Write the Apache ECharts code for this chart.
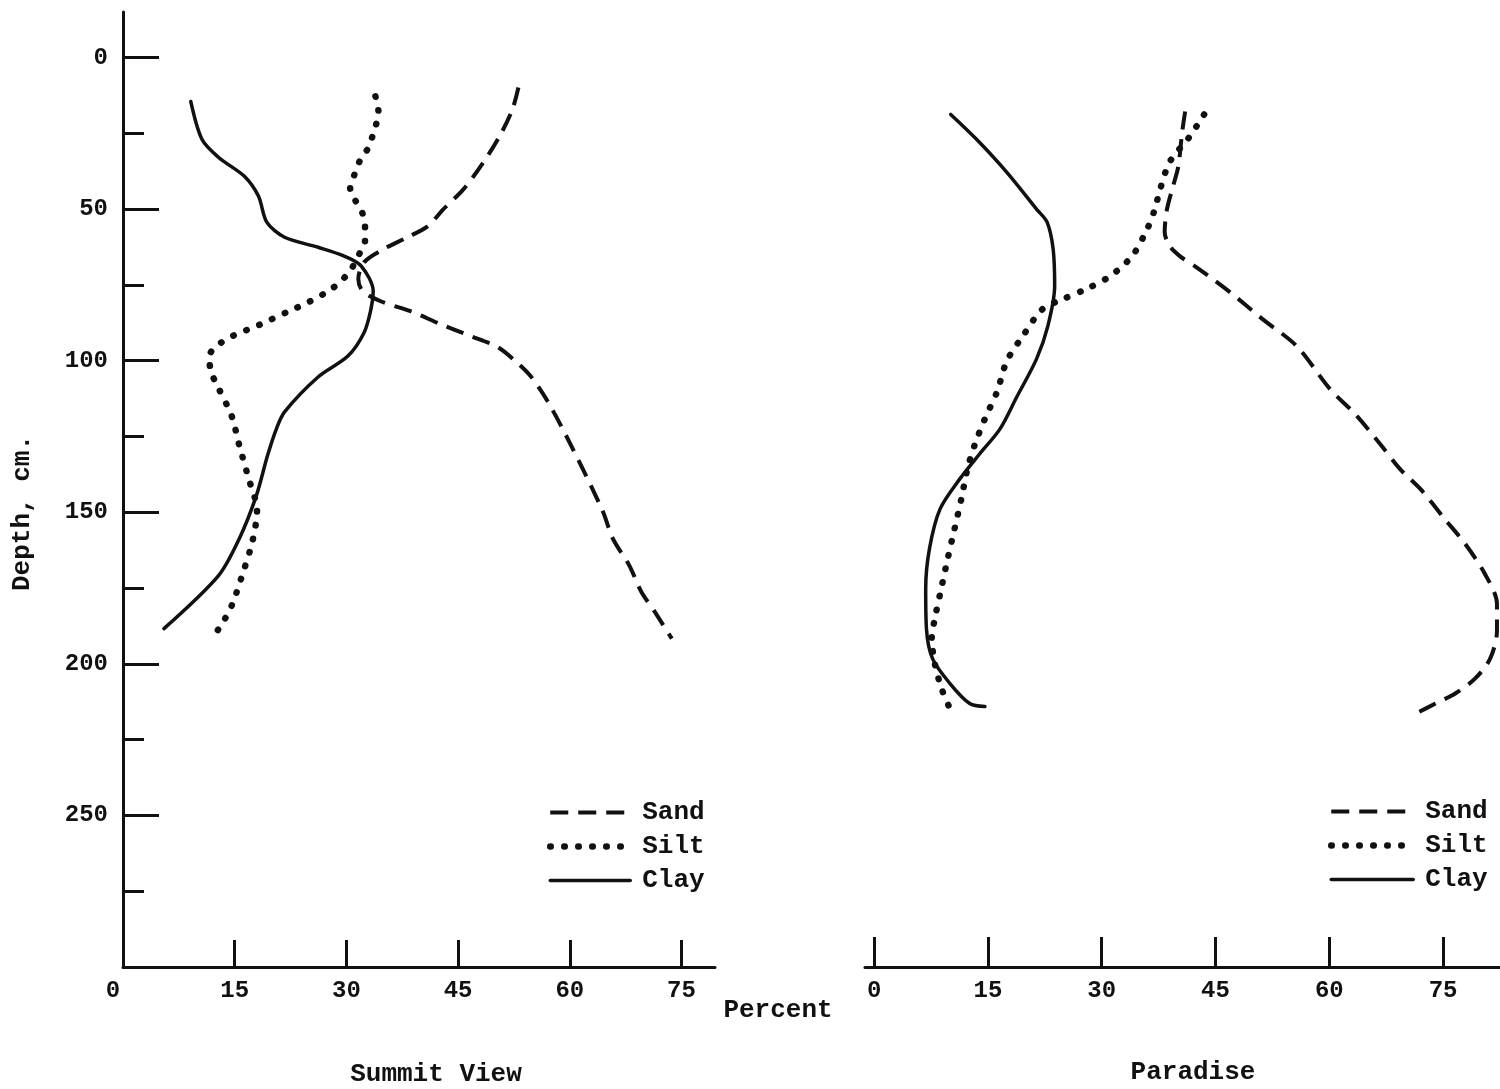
<!DOCTYPE html>
<html>
<head>
<meta charset="utf-8">
<script src="https://cdn.jsdelivr.net/npm/echarts@6/dist/echarts.min.js"></script>
<style>
html,body{margin:0;padding:0;background:#ffffff;}
#chart{width:1500px;height:1089px;}
</style>
</head>
<body>
<div id="chart"></div>
<script>
// ---- tick labels ----
const percentTicks = [0, 15, 30, 45, 60, 75];
const percentTicksLeft = [15, 30, 45, 60, 75];
const depthLabels = [0, 50, 100, 150, 200, 250];
const depthMinor = [25, 75, 125, 175, 225, 275];
const seriesNames = ['Sand', 'Silt', 'Clay'];
const panelNames = ['Summit View', 'Paradise'];

// ---- data: [percent, depth cm] ----
const summitSand = [
  [53.1, 9.9], [52.3, 17.1], [50.7, 25.4], [48.4, 34.6], [45.7, 43.5], [43.0, 50.1],
  [40.9, 55.7], [38.2, 59.3], [35.0, 63.2], [32.4, 67.5], [31.6, 73.1], [32.2, 77.1],
  [34.6, 80.4], [38.6, 83.7], [42.6, 87.9], [46.7, 91.9], [50.3, 95.5], [52.4, 99.5],
  [54.7, 105.0], [57.0, 113.3], [60.2, 128.1], [64.4, 149.5], [65.8, 158.8],
  [68.0, 167.6], [69.6, 176.2], [71.4, 182.8], [73.7, 191.7]
];
const summitSilt = [
  [33.9, 12.8], [34.3, 17.8], [34.0, 22.0], [33.5, 26.0], [32.9, 30.0], [31.9, 33.6],
  [31.1, 38.5], [30.5, 43.0], [31.1, 46.7], [32.1, 51.0], [32.5, 55.6], [32.5, 60.5],
  [31.9, 64.0], [30.4, 70.7], [28.2, 76.0], [25.0, 80.6], [22.0, 84.0], [18.3, 88.2],
  [14.6, 92.0], [13.0, 94.4], [11.6, 98.4], [11.8, 103.6], [12.7, 108.4], [14.6, 118.3],
  [15.6, 127.8], [16.8, 138.3], [18.0, 149.5], [17.4, 159.4], [16.2, 169.3],
  [14.6, 180.8], [13.3, 186.8], [12.0, 191.4]
];
const summitClay = [
  [9.1, 14.5], [10.6, 27.0], [12.8, 32.9], [16.3, 39.2], [18.2, 45.8], [19.3, 54.3],
  [21.7, 59.3], [26.2, 62.6], [29.7, 65.5], [32.0, 68.8], [33.6, 77.1], [33.3, 83.0],
  [32.4, 90.6], [30.2, 98.5], [26.2, 105.4], [21.7, 116.9], [20.6, 122.5], [19.4, 131.4],
  [17.9, 144.6], [15.6, 158.8], [12.8, 171.0], [5.5, 188.4]
];
const paradiseSand = [
  [41.0, 17.8], [40.6, 24.7], [40.1, 35.9], [39.4, 42.5], [38.6, 50.1], [38.3, 57.6],
  [39.0, 62.3], [40.3, 65.5], [42.5, 69.2], [46.9, 77.4], [51.2, 86.3], [55.7, 95.2],
  [60.1, 109.4], [63.4, 117.6], [66.7, 127.5], [69.3, 135.7], [72.0, 142.3], [75.2, 152.2],
  [77.9, 160.4], [80.5, 170.3], [82.1, 180.2], [82.1, 189.1], [81.2, 198.3], [79.2, 204.9],
  [76.6, 209.8], [74.0, 213.1], [71.4, 216.4]
];
const paradiseSilt = [
  [43.5, 18.8], [41.5, 26.4], [39.0, 34.3], [37.7, 43.5], [37.0, 50.0], [36.1, 56.0],
  [34.1, 65.2], [31.3, 71.8], [28.2, 76.1], [24.9, 79.7], [22.2, 83.0], [19.6, 91.9],
  [17.5, 100.1], [16.2, 110.3], [14.6, 119.2], [13.3, 127.5], [12.3, 135.7], [11.5, 145.6],
  [10.6, 155.5], [9.7, 165.3], [8.7, 176.9], [8.0, 185.1], [7.6, 191.7], [8.0, 199.9],
  [8.9, 208.2], [10.0, 214.8]
];
const paradiseClay = [
  [10.1, 18.8], [13.5, 27.0], [17.5, 37.9], [21.4, 50.0], [22.8, 54.3], [23.6, 63.2],
  [23.8, 75.4], [22.9, 88.6], [21.4, 99.5], [18.8, 112.0], [16.6, 122.5], [13.9, 130.8],
  [11.3, 139.0], [8.7, 148.9], [7.3, 162.0], [6.8, 175.2], [6.9, 188.4], [7.7, 198.3],
  [10.0, 206.5], [12.6, 213.1], [14.6, 214.1]
];

// ---- styles ----
const INK = '#111111';
const FONT = "'Liberation Mono', 'DejaVu Sans Mono', monospace";
const styles = {
  Sand: { color: INK, width: 4, type: [18, 10], cap: 'butt' },
  Silt: { color: INK, width: 6.5, type: [0.5, 13.5], cap: 'round' },
  Clay: { color: INK, width: 3.5, type: 'solid', cap: 'round' }
};

function mkSeries(name, data, xi, yi) {
  return {
    type: 'line', name: name, data: data,
    xAxisIndex: xi, yAxisIndex: yi,
    symbol: 'none', smooth: 0.3, clip: false,
    itemStyle: { color: INK },
    lineStyle: styles[name], silent: true
  };
}

const chart = echarts.init(document.getElementById('chart'), null, { renderer: 'canvas' });

const tickLabel = {
  color: INK, fontFamily: FONT, fontWeight: 'bold', fontSize: 24
};

function mkLegend(left, top, w, gap) {
  return {
    data: seriesNames, orient: 'vertical', left: left, top: top, padding: 0,
    itemWidth: w, itemHeight: 14, itemGap: 7, selectedMode: false,
    itemStyle: { color: 'rgba(0,0,0,0)', borderWidth: 0, opacity: 0 },
    lineStyle: { width: 'inherit', type: 'inherit', cap: 'inherit', color: INK },
    textStyle: { color: INK, fontFamily: FONT, fontWeight: 'bold', fontSize: 26, lineHeight: 27, padding: [0, 0, 0, gap] }
  };
}

const option = {
  backgroundColor: '#ffffff',
  animation: false,
  grid: [
    { left: 123, top: 12, width: 592, height: 955 },
    { left: 865, top: 12, width: 635, height: 955 }
  ],
  xAxis: [
    {
      gridIndex: 0, type: 'value', min: 0, max: 79.5, position: 'bottom',
      axisLine: { show: true, onZero: false, lineStyle: { color: INK, width: 3 } },
      axisTick: { show: true, inside: true, length: 27, customValues: percentTicksLeft, lineStyle: { color: INK, width: 3 } },
      axisLabel: Object.assign({ margin: 12, customValues: percentTicks,
        formatter: function (v) { return v === 0 ? '{z|0}' : String(v); },
        rich: { z: { fontFamily: FONT, fontWeight: 'bold', fontSize: 24, color: INK, padding: [0, 20, 0, 0] } }
      }, tickLabel),
      splitLine: { show: false }
    },
    {
      gridIndex: 1, type: 'value', min: -1.2, max: 82.5, position: 'bottom',
      axisLine: { show: true, onZero: false, lineStyle: { color: INK, width: 3 } },
      axisTick: { show: true, inside: true, length: 30, customValues: percentTicks, lineStyle: { color: INK, width: 3 } },
      axisLabel: Object.assign({ margin: 12, customValues: percentTicks }, tickLabel),
      splitLine: { show: false }
    }
  ],
  yAxis: [
    {
      gridIndex: 0, type: 'value', inverse: true, min: -15, max: 300, position: 'left',
      axisLine: { show: true, onZero: false, lineStyle: { color: INK, width: 3 } },
      axisTick: { show: true, inside: true, length: 36, customValues: depthLabels, lineStyle: { color: INK, width: 3 } },
      axisLabel: Object.assign({ margin: 15, customValues: depthLabels }, tickLabel),
      splitLine: { show: false }
    },
    {
      gridIndex: 0, type: 'value', inverse: true, min: -15, max: 300, position: 'left', offset: 0,
      axisLine: { show: false, onZero: false },
      axisTick: { show: true, inside: true, length: 21, customValues: depthMinor, lineStyle: { color: INK, width: 3 } },
      axisLabel: { show: false },
      splitLine: { show: false }
    },
    {
      gridIndex: 1, type: 'value', inverse: true, min: -15, max: 300, show: false
    }
  ],
  legend: [
    mkLegend(547, 799, 80, 7),
    mkLegend(1328, 798, 82, 7)
  ],
  graphic: [
    { type: 'text', x: 22, y: 513, rotation: Math.PI / 2,
      style: { text: 'Depth, cm.', fill: INK, font: "bold 26px " + FONT, align: 'center', verticalAlign: 'middle' } },
    { type: 'text', x: 778, y: 1010,
      style: { text: 'Percent', fill: INK, font: "bold 26px " + FONT, align: 'center', verticalAlign: 'middle' } },
    { type: 'text', x: 436, y: 1074,
      style: { text: panelNames[0], fill: INK, font: "bold 26px " + FONT, align: 'center', verticalAlign: 'middle' } },
    { type: 'text', x: 1193, y: 1072,
      style: { text: panelNames[1], fill: INK, font: "bold 26px " + FONT, align: 'center', verticalAlign: 'middle' } }
  ],
  series: [
    mkSeries('Sand', summitSand, 0, 0),
    mkSeries('Silt', summitSilt, 0, 0),
    mkSeries('Clay', summitClay, 0, 0),
    mkSeries('Sand', paradiseSand, 1, 2),
    mkSeries('Silt', paradiseSilt, 1, 2),
    mkSeries('Clay', paradiseClay, 1, 2)
  ]
};
chart.setOption(option);
</script>
</body>
</html>
